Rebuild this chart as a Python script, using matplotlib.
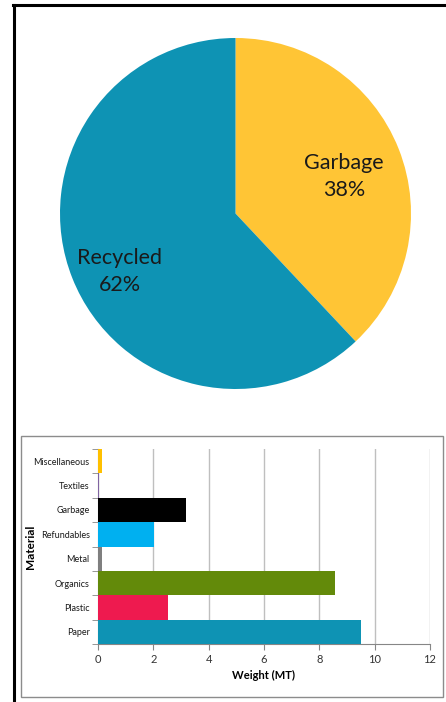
import numpy as np
import matplotlib
matplotlib.use("Agg")
import matplotlib.pyplot as plt
from matplotlib.lines import Line2D
from matplotlib.patches import Rectangle

plt.rcParams['font.family'] = ['Lato', 'DejaVu Sans']

# pie: share of waste stream
pie_names = ['Garbage', 'Recycled']
pie_values = [38, 62]
pie_colors = ['#FFC535', '#0E93B4']

# bars: weight by material (MT)
materials = ['Paper', 'Plastic', 'Organics', 'Metal', 'Refundables',
             'Garbage', 'Textiles', 'Miscellaneous']
weights = [9.52, 2.53, 8.56, 0.16, 2.04, 3.17, 0.02, 0.14]
bar_colors = ['#0E93B4', '#EE1A4F', '#638A0A', '#7F7F7F', '#00B0F0',
              '#000000', '#8064A2', '#FFC000']
xticks = [0, 2, 4, 6, 8, 10, 12]

W, H = 446, 702
fig = plt.figure(figsize=(W / 100, H / 100), dpi=100)


def px_axes(x0, y0, x1, y1):
    # axes from pixel box (top-left origin)
    return fig.add_axes([x0 / W, 1 - y1 / H, (x1 - x0) / W, (y1 - y0) / H])


# outer frame: top and left edges only
fig.add_artist(Line2D([13 / W, 1], [1 - 5 / H, 1 - 5 / H], color='black', lw=2.2,
                      transform=fig.transFigure))
fig.add_artist(Line2D([14 / W, 14 / W], [1 - 5 / H, 0], color='black', lw=2.2,
                      transform=fig.transFigure))

# ---- pie ----
ax1 = px_axes(60, 38, 411, 389)
wedges, _ = ax1.pie(pie_values, colors=pie_colors, startangle=90,
                    counterclock=False, radius=1.0)
ax1.set_xlim(-1, 1)
ax1.set_ylim(-1, 1)
ax1.set_aspect('equal')
ax1.axis('off')

label_xy = [(0.62, 0.21), (-0.66, -0.33)]
for name, val, (lx, ly) in zip(pie_names, pie_values, label_xy):
    ax1.text(lx, ly, f"{name}\n{val}%", ha='center', va='center',
             fontsize=15.5, color='#1a1a1a', linespacing=1.45)

# ---- bar chart box ----
fig.add_artist(Rectangle((21 / W, 1 - 697 / H), (443 - 21) / W, (697 - 436) / H,
                         transform=fig.transFigure, fill=False,
                         edgecolor='#8c8c8c', lw=1.0))

ax2 = px_axes(98, 449, 430, 644)
ypos = np.arange(len(materials))
ax2.barh(ypos, weights, height=1.0, color=bar_colors, zorder=3)
ax2.set_xlim(0, 12)
ax2.set_ylim(-0.5, len(materials) - 0.5)
ax2.set_xticks(xticks)
ax2.set_xticklabels([str(t) for t in xticks], fontsize=8, color='#333333')
ax2.set_yticks(ypos)
ax2.set_yticklabels(materials, fontsize=6.5, color='#1a1a1a')
ax2.tick_params(axis='y', length=0, pad=6)
ax2.set_yticks(np.arange(-0.5, len(materials)), minor=True)
ax2.tick_params(axis='y', which='minor', length=4, color='#868686')
ax2.tick_params(axis='x', length=4, color='#868686', pad=3)
ax2.grid(axis='x', color='#bfbfbf', lw=1.0, zorder=0)
for s in ['top', 'right']:
    ax2.spines[s].set_visible(False)
ax2.spines['left'].set_color('#868686')
ax2.spines['bottom'].set_color('#868686')
ax2.set_xlabel('Weight (MT)', fontsize=8, fontweight='bold', labelpad=4)
ax2.set_ylabel('Material', fontsize=8.5, fontweight='bold')
ax2.yaxis.set_label_coords(-0.187, 0.5)

fig.savefig('out.png', dpi=100)
